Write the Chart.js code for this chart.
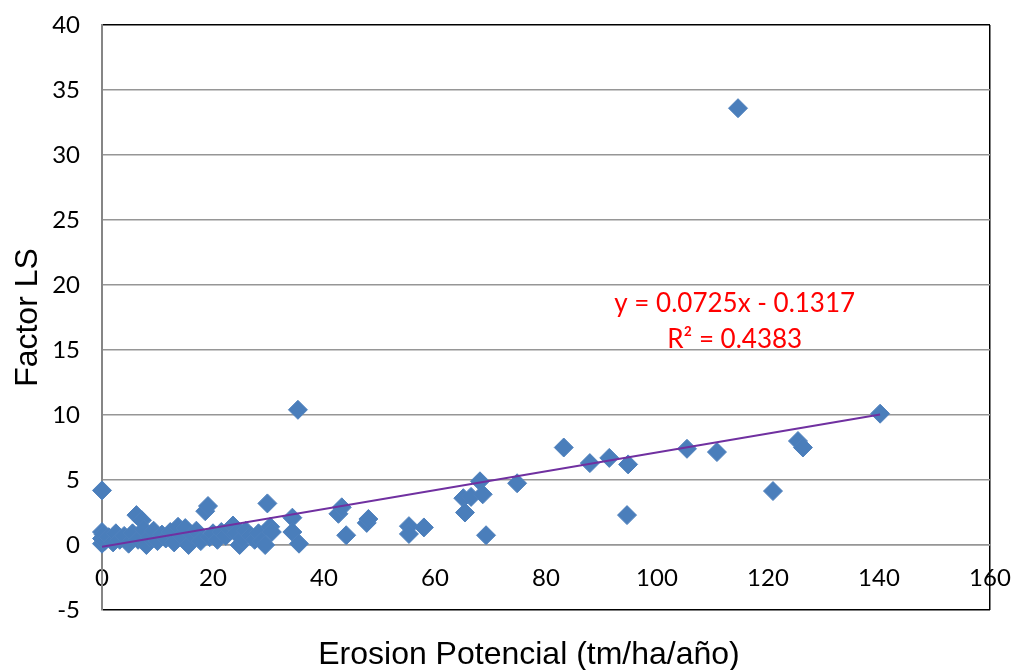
<!DOCTYPE html>
<html>
<head>
<meta charset="utf-8">
<script src="https://cdn.jsdelivr.net/npm/chart.js@4"></script>
<style>
  html, body { margin: 0; padding: 0; background: #fff; }
  #wrap { width: 1013px; height: 670px; }
</style>
</head>
<body>
<div id="wrap"><canvas id="lsChart"></canvas></div>
<script>
// erosion potencial (x) vs factor LS (y)
const erosion = [
  0, 0, 0, 0, 0.3, 0.5, 1.2, 2, 2.5, 3.2, 4, 4.8, 5.5, 6.2, 6.5, 7.2, 7.5, 8, 8.6, 9.3,
  10, 10.8, 11.5, 12.3, 13, 13.7, 14.3, 15, 15.6, 16.3, 17, 17.8, 18.6, 19.1, 19.4, 20,
  20.8, 21.5, 22.3, 23, 23.6, 24.2, 24.8, 25.3, 25.9, 26.8, 27.5, 28.2, 28.8, 29.4, 29.8,
  30.3, 30.6, 34.3, 34.3, 35.5, 35.3,
  42.6, 43.2, 44.0, 47.7, 48.0, 55.3, 55.3, 58.0, 65.1, 65.4, 66.5, 68.1, 68.6, 69.2,
  74.8, 83.2, 87.9, 91.4, 94.8, 94.6, 105.4, 110.8, 114.6, 120.9, 125.4, 126.3, 140.2
];
const factorLS = [
  4.2, 0.1, 0.5, 1.0, 0.8, 0.3, 0.6, 0.2, 0.9, 0.4, 0.7, 0.1, 0.9, 2.3, 0.4, 1.9, 1.2, 0.0, 0.6, 1.1,
  0.3, 0.8, 0.5, 1.0, 0.2, 1.4, 0.7, 1.3, 0.0, 0.8, 1.1, 0.3, 2.6, 3.0, 0.6, 0.9,
  0.4, 1.0, 0.7, 1.2, 1.5, 0.9, 0.0, 0.5, 1.1, 0.7, 0.4, 0.9, 0.3, 0.0, 3.2,
  1.4, 1.0, 2.1, 1.0, 0.1, 10.4,
  2.4, 2.9, 0.75, 1.7, 2.0, 1.45, 0.85, 1.35, 3.6, 2.5, 3.7, 4.9, 3.9, 0.75,
  4.75, 7.5, 6.3, 6.7, 6.2, 2.3, 7.4, 7.15, 33.6, 4.15, 8.0, 7.5, 10.1
];

// linear trendline as printed on the chart
const trendSlope = 0.0725;
const trendIntercept = -0.1317;
const trendLabel = ["y = 0.0725x - 0.1317", "R\u00b2 = 0.4383"];
const trendLabelAt = { x: 114, y: [18.6, 15.8] };

const xTitle = "Erosion Potencial (tm/ha/a\u00f1o)";
const yTitle = "Factor LS";

const points = erosion.map((x, i) => ({ x: x, y: factorLS[i] }));
const xMax = Math.max(...erosion);
const trend = [
  { x: 0, y: trendIntercept },
  { x: xMax, y: trendSlope * xMax + trendIntercept },
];

const tickFont = { family: "Lato, 'Liberation Sans', sans-serif", size: 24 };
const titleFamily = "'Liberation Sans', Arial, sans-serif";

// equation text and the x-axis title (the x axis sits at y = 0, so its own title would land inside the plot)
const extraText = {
  id: "extraText",
  afterDatasetsDraw(chart) {
    const { ctx, scales } = chart;
    ctx.save();
    ctx.fillStyle = "#ff0000";
    ctx.font = "26px Lato, sans-serif";
    ctx.textAlign = "center";
    ctx.textBaseline = "middle";
    const px = scales.x.getPixelForValue(trendLabelAt.x);
    trendLabel.forEach((t, i) => {
      ctx.fillText(t, px, scales.y.getPixelForValue(trendLabelAt.y[i]));
    });
    ctx.fillStyle = "#000";
    ctx.font = "32px " + titleFamily;
    ctx.fillText(xTitle, 529, 655);
    ctx.restore();
  },
};

new Chart(document.getElementById("lsChart"), {
  type: "scatter",
  data: {
    datasets: [
      {
        label: "Factor LS",
        data: points,
        pointStyle: "rectRot",
        pointRadius: 9.5,
        pointHoverRadius: 9.5,
        backgroundColor: "#4a7ebb",
        borderColor: "#4f81bd",
        borderWidth: 1,
        clip: false,
        order: 2,
      },
      {
        type: "line",
        label: "Lineal",
        data: trend,
        borderColor: "#7030a0",
        borderWidth: 2,
        pointRadius: 0,
        fill: false,
        order: 1,
      },
    ],
  },
  options: {
    responsive: true,
    maintainAspectRatio: false,
    animation: false,
    layout: { autoPadding: false, padding: { top: 25, right: 23, left: 0, bottom: 60 } },
    scales: {
      x: {
        type: "linear",
        position: { y: 0 },
        min: 0,
        max: 160,
        ticks: { stepSize: 20, color: "#000", font: tickFont, padding: 19 },
        grid: {
          drawTicks: false,
          color: (c) => (c.tick && c.tick.value === 160 ? "#000" : "rgba(0,0,0,0)"),
          lineWidth: 1.5,
        },
        border: { color: "#969696", width: 1.5 },
        afterFit: (s) => {
          // keep tick padding from pushing the plot edges in
          s.paddingLeft = 0;
          s.paddingRight = 0;
        },
      },
      y: {
        min: -5,
        max: 40,
        ticks: { stepSize: 5, color: "#000", font: tickFont, padding: 22 },
        grid: {
          drawTicks: false,
          color: (c) =>
            c.tick && (c.tick.value === 40 || c.tick.value === -5) ? "#000" : "#969696",
          lineWidth: 1.5,
        },
        border: { color: "#868686", width: 2 },
        title: {
          display: true,
          text: yTitle,
          color: "#000",
          font: { family: titleFamily, size: 32, lineHeight: 1 },
          padding: { top: 12, bottom: 0 },
        },
        afterFit: (s) => {
          s.width = 102;
          s.paddingTop = 0;
          s.paddingBottom = 0;
        },
      },
    },
    plugins: {
      legend: { display: false },
      tooltip: { enabled: false },
    },
  },
  plugins: [extraText],
});
</script>
</body>
</html>
